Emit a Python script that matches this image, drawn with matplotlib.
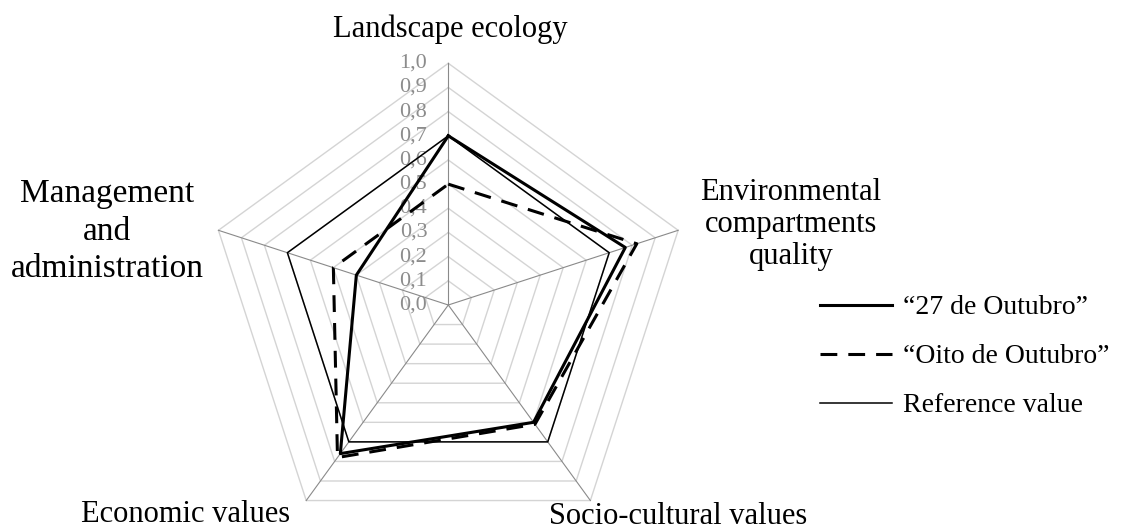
import numpy as np
import matplotlib
matplotlib.use("Agg")
import matplotlib.pyplot as plt
from matplotlib.lines import Line2D

plt.rcParams['font.family'] = ['Liberation Serif', 'DejaVu Serif']

# data
categories = ['Landscape ecology', 'Environmental compartments quality',
              'Socio-cultural values', 'Economic values',
              'Management and administration']
outubro_27 = [0.70, 0.77, 0.60, 0.76, 0.40]
oito_outubro = [0.50, 0.82, 0.61, 0.78, 0.50]
reference_value = [0.70, 0.70, 0.70, 0.70, 0.70]
grid_levels = [0.1, 0.2, 0.3, 0.4, 0.5, 0.6, 0.7, 0.8, 0.9, 1.0]
tick_labels = ['0,0', '0,1', '0,2', '0,3', '0,4', '0,5', '0,6', '0,7', '0,8', '0,9', '1,0']

W, H = 1139, 532
fig = plt.figure(figsize=(W / 100, H / 100), dpi=100)

# polar axes placed so the centre sits at (448, 305) px, radius 242 px
cx, cy, R = 448.3, 305, 241.7
ax = fig.add_axes([(cx - R) / W, (H - cy - R) / H, 2 * R / W, 2 * R / H],
                  projection='polar')
ax.set_theta_offset(np.pi / 2)
ax.set_theta_direction(-1)
ax.set_ylim(0, 1)
ax.grid(False)
ax.spines['polar'].set_visible(False)
ax.set_xticks([])
ax.set_yticks([])
ax.patch.set_visible(False)

n = len(categories)
theta = np.linspace(0, 2 * np.pi, n, endpoint=False)
theta_c = np.append(theta, theta[0])

def closed(vals):
    return np.append(vals, vals[0])

# pentagon grid
for r in grid_levels:
    ax.plot(theta_c, [r] * (n + 1), color='#d4d4d4', lw=1.0, zorder=1, clip_on=False)
for t in theta:
    ax.plot([t, t], [0, 1], color='#8a8a8a', lw=0.8, zorder=2, clip_on=False)

# radial tick labels along the top spoke
for i, lab in enumerate(tick_labels):
    ax.annotate(lab, xy=(0, i / 10), xytext=(-21, 0), textcoords='offset pixels',
                ha='right', va='center', fontsize=16, color='#8c8c8c', zorder=3,
                annotation_clip=False)

ax.plot(theta_c, closed(reference_value), color='black', lw=1.1, zorder=4, clip_on=False)
ax.plot(theta_c, closed(outubro_27), color='black', lw=2.2, zorder=5, clip_on=False)
ax.plot(theta_c, closed(oito_outubro), color='black', lw=2.2, dashes=(5.5, 3.6),
        zorder=5, clip_on=False)

# category labels
def ftext(x, y, s, size):
    fig.text(x / W, 1 - y / H, s, ha='center', va='baseline', fontsize=size)

ftext(450, 37, 'Landscape ecology', 22)
for s, y in zip(['Environmental', 'compartments', 'quality'], [200, 232, 264]):
    ftext(791, y, s, 22)
for s, y in zip(['Management', 'and', 'administration'], [202, 239.5, 277]):
    ftext(107.5, y, s, 24)
ftext(186, 522, 'Economic values', 22)
ftext(678, 524, 'Socio-cultural values', 22)

handles = [Line2D([], [], color='black', lw=2.2),
           Line2D([], [], color='black', lw=2.2, dashes=(5.5, 3.6)),
           Line2D([], [], color='black', lw=1.1)]
labels = ['\u201c27 de Outubro\u201d', '\u201cOito de Outubro\u201d', 'Reference value']
fig.legend(handles, labels, loc='center left', bbox_to_anchor=(820 / W, 1 - 356.7 / H),
           frameon=False, fontsize=20, handlelength=2.6, handletextpad=0.4,
           labelspacing=0.85, borderpad=0, borderaxespad=0)

fig.savefig('out.png', dpi=100)
